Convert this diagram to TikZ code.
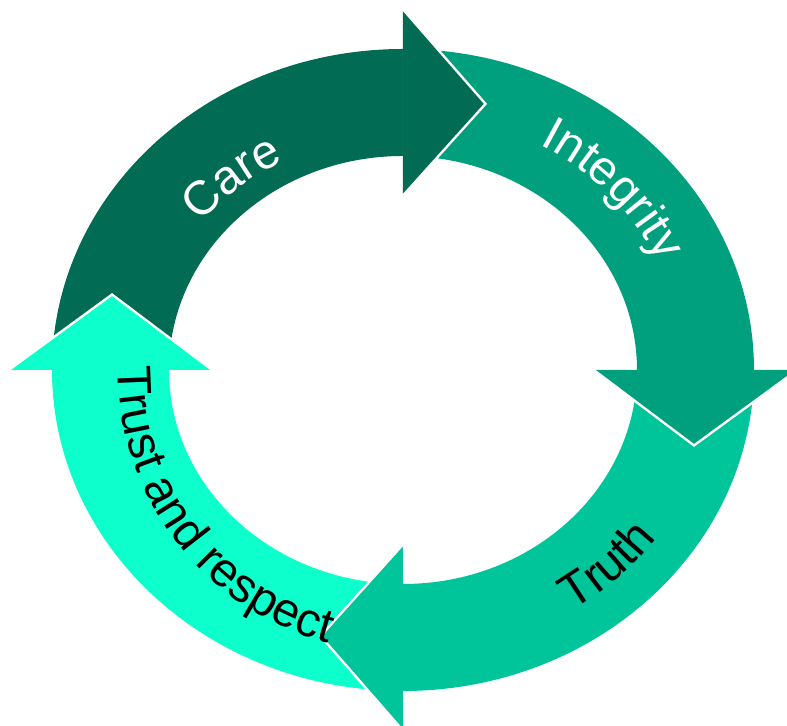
\documentclass[tikz,border=0pt]{standalone}
\usepackage{fontspec}
\setmainfont{Liberation Sans}
\usetikzlibrary{decorations.text}
\definecolor{carecol}{HTML}{026B53}
\definecolor{integcol}{HTML}{00A07E}
\definecolor{truthcol}{HTML}{00C49A}
\definecolor{trustcol}{HTML}{0DFFCC}
\tikzstyle{gap} = [draw=white, line width=2.5pt, line join=miter]
\tikzstyle{ringtext} = [decorate, decoration={text along path, text align=center}]
\newcommand{\ringfont}{\fontsize{24}{24}\selectfont}

\begin{document}
\begin{tikzpicture}[x=0.5pt,y=0.5pt]
\useasboundingbox (-403,-356) rectangle (384,370);
\foreach \a/\b/\c in {90/180/carecol,0/90/integcol,-90/0/truthcol,-180/-90/trustcol}
  \fill[\c] (\b:351 and 321) arc[start angle=\b, end angle=\a, x radius=351, y radius=321]
    -- (\a:234 and 214) arc[start angle=\a, end angle=\b, x radius=234, y radius=214] -- cycle;
\foreach \a/\t/\c in {90/74.5/carecol,0/-15.5/integcol,-90/-105.5/truthcol,-180/-195.5/trustcol}{
  \draw[gap] (\a:392 and 358.5) -- (\t:302 and 276.2) -- (\a:193 and 176.5);
  \fill[\c] (\a:392 and 358.5) -- (\t:302 and 276.2) -- (\a:193 and 176.5) -- cycle;
}
\path[ringtext, decoration={text={|\color{white}\ringfont|Care}}]
  (160:258 and 236) arc[start angle=160, end angle=100, x radius=258, y radius=236];
\path[ringtext, decoration={text={|\color{white}\ringfont|Integrity}}]
  (80:281 and 258) arc[start angle=80, end angle=4, x radius=281, y radius=258];
\path[ringtext, decoration={text={|\color{black}\ringfont|Truth}}]
  (-76:313 and 286.2) arc[start angle=-76, end angle=-16, x radius=313, y radius=286.2];
\path[ringtext, decoration={text={|\color{black}\ringfont|Trust and respect}}]
  (172:285 and 283) arc[start angle=172, end angle=262, x radius=285, y radius=283];
\end{tikzpicture}
\end{document}
